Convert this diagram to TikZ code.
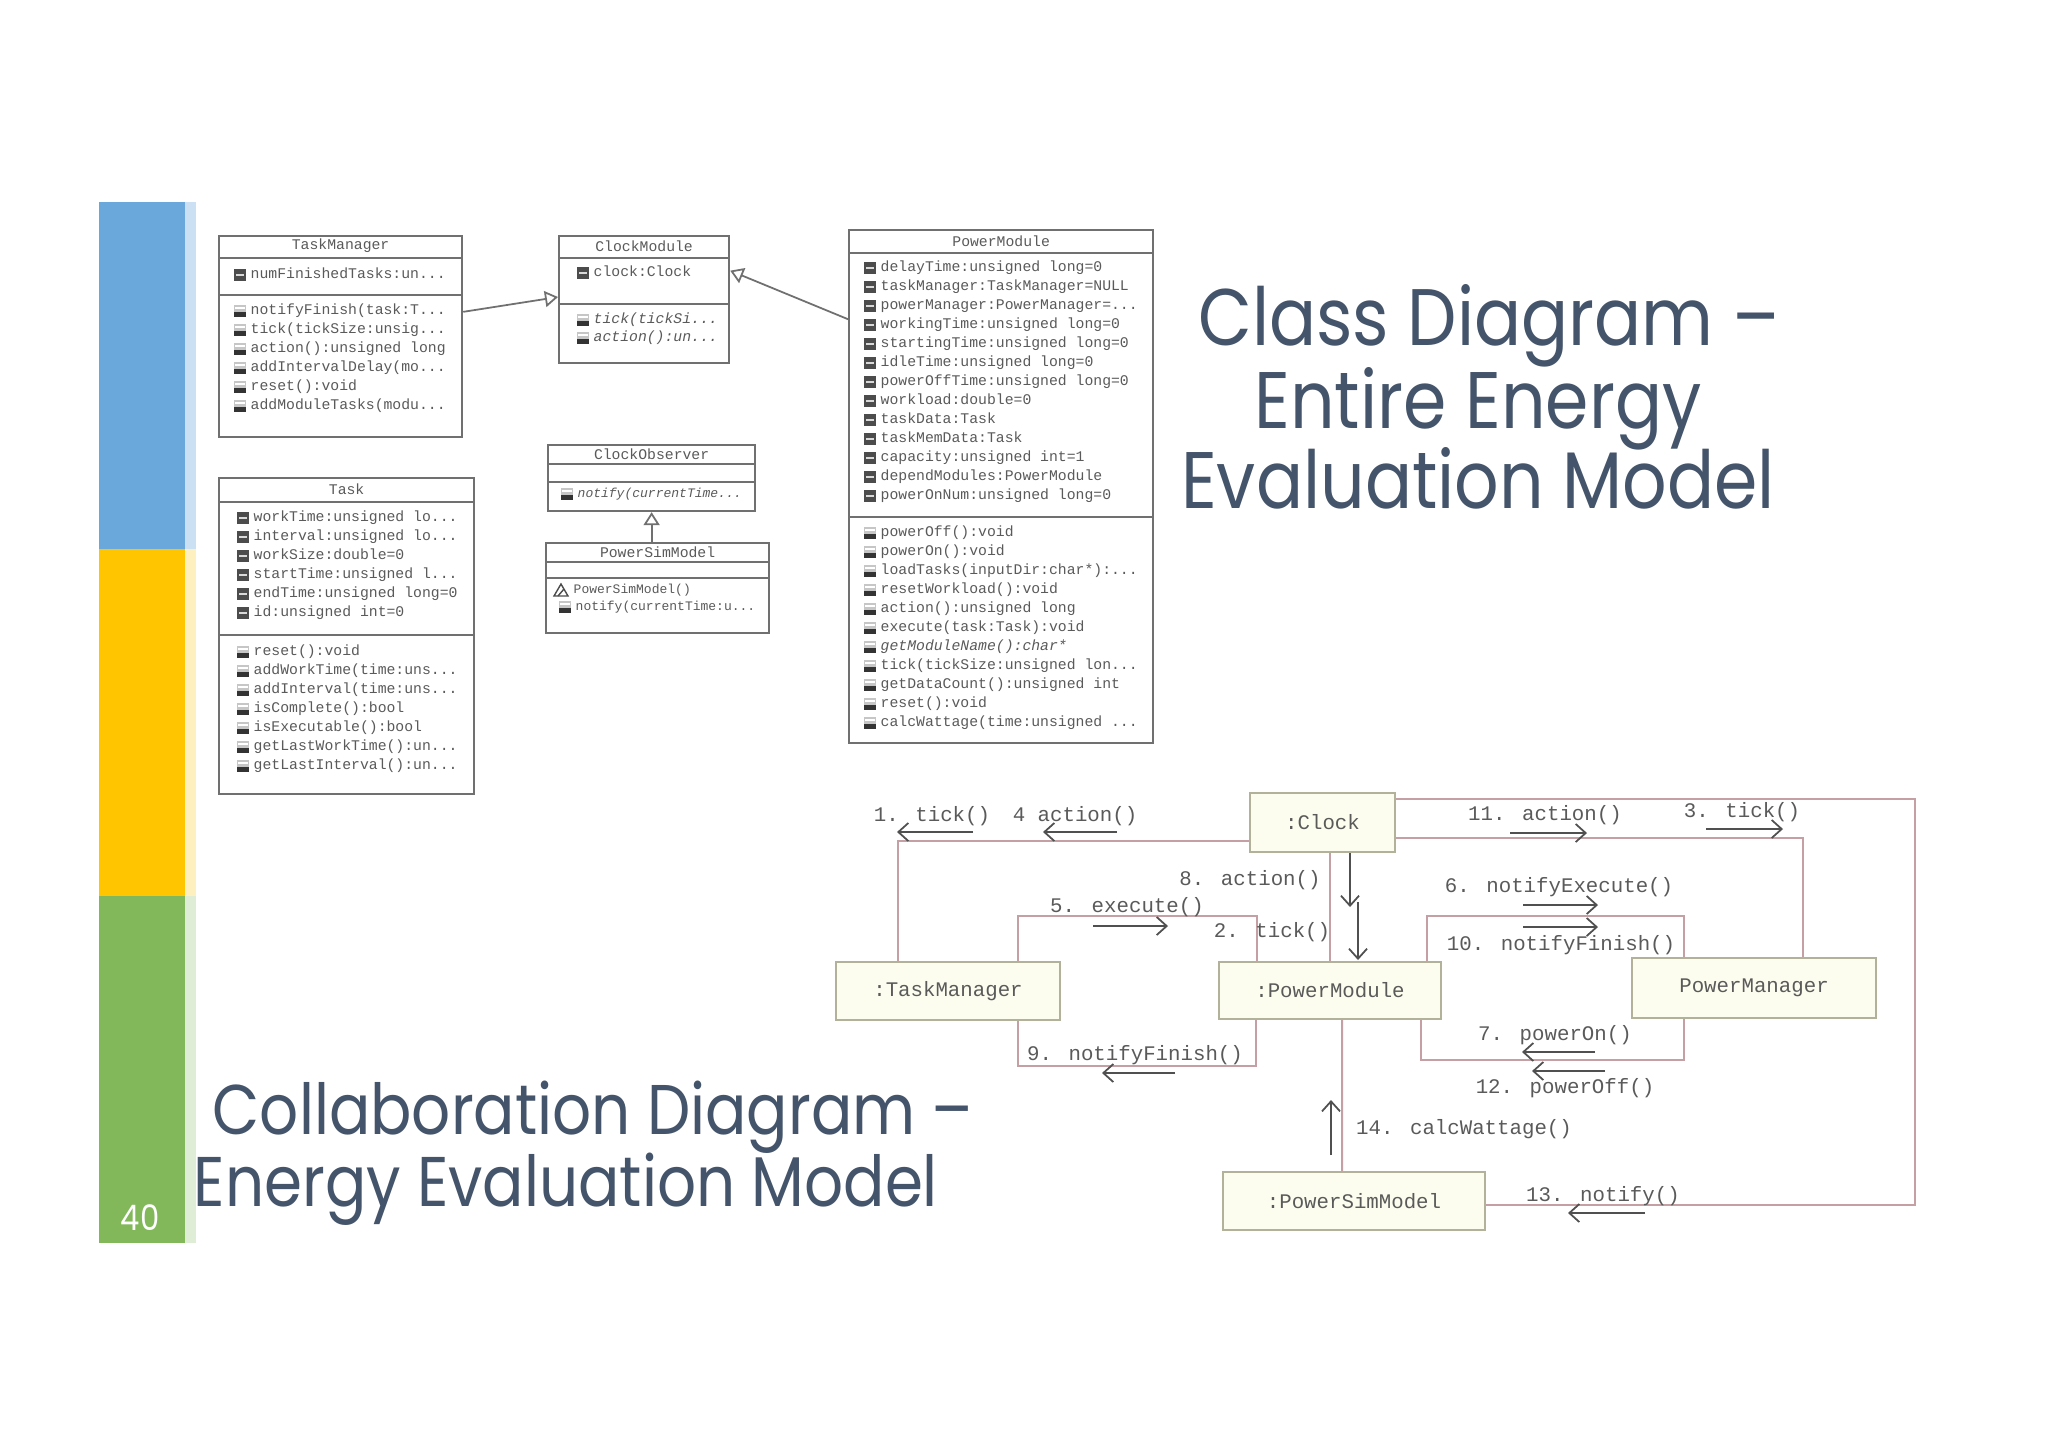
\documentclass[tikz,border=0pt]{standalone}
\usepackage{fontspec}
\usetikzlibrary{arrows.meta,calc,positioning}
\newfontfamily\titlefont[FakeStretch=0.87]{Poppins}
\newfontfamily\umlfont{Liberation Mono}
\newcommand{\trunc}{...}
\definecolor{slate}{HTML}{44546A}
\definecolor{barblue}{HTML}{6AA8DC}
\definecolor{baryellow}{HTML}{FFC600}
\definecolor{bargreen}{HTML}{82B85A}
\definecolor{umlgray}{HTML}{707070}
\definecolor{umltext}{HTML}{5A5A5A}
\definecolor{objfill}{HTML}{FDFDEF}
\definecolor{objline}{HTML}{B2B29A}
\definecolor{linkcol}{HTML}{C49FA4}
\definecolor{msgcol}{HTML}{505050}

\tikzset{
  ficon/.pic={\fill[black!70] (-6,-6) rectangle (6,6); \fill[gray!30] (-4,-1) rectangle (4,1);},
  oicon/.pic={\fill[gray!45] (-6,-6) rectangle (6,6); \fill[black!80] (-6,1) rectangle (6,6); \draw[white, line width=0.3pt] (-5,-3) -- (5,-3);},
  cicon/.pic={\draw[black!70, line width=0.4pt] (-7,6) -- (0,-6) -- (7,6) -- cycle; \draw[black!70, line width=0.4pt] (-3,6) -- (3,-1);}
}

\begin{document}
\begin{tikzpicture}[x=0.01cm, y=-0.01cm,
  cls/.style={draw=umlgray, line width=0.6pt, fill=white, anchor=north west, inner sep=0pt},
  sep/.style={draw=umlgray, line width=0.5pt},
  head/.style={font=\umlfont\fontsize{4.2}{5}\selectfont, text=umltext, inner sep=0pt},
  mem/.style={anchor=west, font=\umlfont\fontsize{4.2}{5}\selectfont, text=umltext, inner sep=0pt, text height=3pt, text depth=1pt},
  narrow/.style={font=\umlfont\fontsize{3.7}{5}\selectfont},
  gen/.style={draw=umlgray, line width=0.5pt, -{Triangle[open, fill=white, length=1.3mm, width=1.6mm]}},
  obj/.style={draw=objline, line width=0.5pt, fill=objfill, inner sep=0pt, font=\umlfont\fontsize{5.9}{7}\selectfont, text=umltext},
  link/.style={draw=linkcol, line width=0.55pt},
  lbl/.style={font=\umlfont\fontsize{5.9}{7}\selectfont, text=umltext, inner sep=0pt},
  msg/.style={draw=msgcol, line width=0.5pt, -{Straight Barb[length=1mm, width=1.8mm]}},
  title/.style={font=\titlefont\fontsize{22.8}{27}\selectfont, text=slate, inner sep=0pt, anchor=base},
  subtitle/.style={font=\titlefont\fontsize{20}{24}\selectfont, text=slate, inner sep=0pt, anchor=base west}
]
\useasboundingbox[fill=white] (0,0) rectangle (2048,1447);

% side bar
\fill[barblue] (99,202) rectangle (185,549);
\fill[baryellow] (99,549) rectangle (185,896);
\fill[bargreen] (99,896) rectangle (185,1243);
\fill[barblue!35] (185,202) rectangle (196,549);
\fill[baryellow!25] (185,549) rectangle (196,896);
\fill[bargreen!25] (185,896) rectangle (196,1243);
\node[font=\titlefont\fontsize{10}{12}\selectfont, text=white] (pg) at (140,1218) {40};

% titles
\node[title] (t1) at (1489,345) {Class Diagram \textendash};
\node[title] (t2) at (1478,428) {Entire Energy};
\node[title] (t3) at (1478,508) {Evaluation Model};
\node[subtitle] (s1) at (212,1134) {Collaboration Diagram \textendash};
\node[subtitle] (s2) at (193,1206) {Energy Evaluation Model};

% class diagram
\node[cls, minimum width=2.43cm, minimum height=2.01cm] (tm) at (218,235) {};
\draw[sep] ($(tm.north west)+(0,23)$) -- ($(tm.north east)+(0,23)$);
\draw[sep] ($(tm.north west)+(0,60)$) -- ($(tm.north east)+(0,60)$);
\node[head] at ($(tm.north)+(0,11)$) {TaskManager};
\foreach \txt [count=\i] in {numFinishedTasks:un\trunc}
  {\node[mem] (tmA\i) at ($(tm.north west)+(32,{21+19*\i})$) {\txt}; \pic at ($(tmA\i.west)+(-10,0)$) {ficon};}
\foreach \txt [count=\i] in {notifyFinish(task:T\trunc, tick(tickSize:unsig\trunc, action():unsigned long, addIntervalDelay(mo\trunc, reset():void, addModuleTasks(modu\trunc}
  {\node[mem] (tmM\i) at ($(tm.north west)+(32,{57+19*\i})$) {\txt}; \pic at ($(tmM\i.west)+(-10,0)$) {oicon};}

\node[cls, minimum width=2.55cm, minimum height=3.16cm] (tk) at (218,477) {};
\draw[sep] ($(tk.north west)+(0,25)$) -- ($(tk.north east)+(0,25)$);
\draw[sep] ($(tk.north west)+(0,158)$) -- ($(tk.north east)+(0,158)$);
\node[head] at ($(tk.north)+(0,12)$) {Task};
\foreach \txt [count=\i] in {workTime:unsigned lo\trunc, interval:unsigned lo\trunc, workSize:double=0, startTime:unsigned l\trunc, endTime:unsigned long=0, id:unsigned int=0}
  {\node[mem] (tkA\i) at ($(tk.north west)+(35,{22+19*\i})$) {\txt}; \pic at ($(tkA\i.west)+(-10,0)$) {ficon};}
\foreach \txt [count=\i] in {reset():void, addWorkTime(time:uns\trunc, addInterval(time:uns\trunc, isComplete():bool, isExecutable():bool, getLastWorkTime():un\trunc, getLastInterval():un\trunc}
  {\node[mem] (tkM\i) at ($(tk.north west)+(35,{156+19*\i})$) {\txt}; \pic at ($(tkM\i.west)+(-10,0)$) {oicon};}

\node[cls, minimum width=1.70cm, minimum height=1.27cm] (cm) at (558,235) {};
\draw[sep] ($(cm.north west)+(0,23)$) -- ($(cm.north east)+(0,23)$);
\draw[sep] ($(cm.north west)+(0,69)$) -- ($(cm.north east)+(0,69)$);
\node[head] at ($(cm.north)+(0,11)$) {ClockModule};
\node[mem] (cmA1) at ($(cm.north west)+(35,38)$) {clock:Clock};
\pic at ($(cmA1.west)+(-10,0)$) {ficon};
\foreach \txt [count=\i] in {tick(tickSi\trunc, action():un\trunc}
  {\node[mem, font=\umlfont\itshape\fontsize{4.2}{5}\selectfont] (cmM\i) at ($(cm.north west)+(35,{67+18*\i})$) {\txt}; \pic at ($(cmM\i.west)+(-10,0)$) {oicon};}

\node[cls, minimum width=2.07cm, minimum height=0.66cm] (co) at (547,444) {};
\draw[sep] ($(co.north west)+(0,20)$) -- ($(co.north east)+(0,20)$);
\draw[sep] ($(co.north west)+(0,38)$) -- ($(co.north east)+(0,38)$);
\node[head] at ($(co.north)+(0,10)$) {ClockObserver};
\node[mem, font=\umlfont\itshape\fontsize{3.7}{5}\selectfont] (coM1) at ($(co.north west)+(30,50)$) {notify(currentTime\trunc};
\pic at ($(coM1.west)+(-10,0)$) {oicon};

\node[cls, minimum width=2.23cm, minimum height=0.90cm] (psm) at (545,542) {};
\draw[sep] ($(psm.north west)+(0,20)$) -- ($(psm.north east)+(0,20)$);
\draw[sep] ($(psm.north west)+(0,36)$) -- ($(psm.north east)+(0,36)$);
\node[head] at ($(psm.north)+(0,10)$) {PowerSimModel};
\node[mem, narrow] (psmM1) at ($(psm.north west)+(28,48)$) {PowerSimModel()};
\pic at ($(psmM1.west)+(-12,0)$) {cicon};
\node[mem, narrow] (psmM2) at ($(psm.north west)+(30,65)$) {notify(currentTime:u\trunc};
\pic at ($(psmM2.west)+(-10,0)$) {oicon};

\node[cls, minimum width=3.04cm, minimum height=5.13cm] (pm) at (848,229) {};
\draw[sep] ($(pm.north west)+(0,24)$) -- ($(pm.north east)+(0,24)$);
\draw[sep] ($(pm.north west)+(0,288)$) -- ($(pm.north east)+(0,288)$);
\node[head] at ($(pm.north)+(0,12)$) {PowerModule};
\foreach \txt [count=\i] in {delayTime:unsigned long=0, taskManager:TaskManager=NULL, powerManager:PowerManager=\trunc, workingTime:unsigned long=0, startingTime:unsigned long=0, idleTime:unsigned long=0, powerOffTime:unsigned long=0, workload:double=0, taskData:Task, taskMemData:Task, capacity:unsigned int=1, dependModules:PowerModule, powerOnNum:unsigned long=0}
  {\node[mem] (pmA\i) at ($(pm.north west)+(32,{20+19*\i})$) {\txt}; \pic at ($(pmA\i.west)+(-10,0)$) {ficon};}
\foreach \txt [count=\i] in {powerOff():void, powerOn():void, loadTasks(inputDir:char*):\trunc, resetWorkload():void, action():unsigned long, execute(task:Task):void, {\itshape getModuleName():char*}, tick(tickSize:unsigned lon\trunc, getDataCount():unsigned int, reset():void, calcWattage(time:unsigned \trunc}
  {\node[mem] (pmM\i) at ($(pm.north west)+(32,{285+19*\i})$) {\txt}; \pic at ($(pmM\i.west)+(-10,0)$) {oicon};}

\draw[gen] ($(tm.north east)!0.378!(tm.south east)$) -- ($(cm.north west)!0.48!(cm.south west)$);
\draw[gen] ($(pm.north west)!0.175!(pm.south west)$) -- ($(cm.north east)!0.276!(cm.south east)$);
\draw[gen] (co.south |- psm.north) -- (co.south);

% collaboration diagram
\node[obj, minimum width=1.45cm, minimum height=0.59cm] (oclk) at (1322.5,822.5) {:Clock};
\node[obj, minimum width=2.24cm, minimum height=0.58cm] (otm) at (948,991) {:TaskManager};
\node[obj, minimum width=2.22cm, minimum height=0.57cm] (opm) at (1330,990.5) {:PowerModule};
\node[obj, minimum width=2.44cm, minimum height=0.60cm] (opmg) at (1754,988) {PowerManager};
\node[obj, minimum width=2.62cm, minimum height=0.58cm] (opsm) at (1354,1201) {:PowerSimModel};
\coordinate (outer) at (1915,1000);

\draw[link] ($(oclk.south west)!0.19!(oclk.north west)$) -| ($(otm.north west)+(63,0)$);
\draw[link] ($(otm.north west)+(183,0)$) -- ++(0,-45) -| ($(opm.north west)+(39,0)$);
\draw[link] ($(otm.south west)+(183,0)$) -- ++(0,45) -| ($(opm.south west)+(38,0)$);
\draw[link] (opm.north |- oclk.south) -- (opm.north);
\draw[link] ($(oclk.south east)!0.24!(oclk.north east)$) -| ($(opmg.north west)+(172,0)$);
\draw[link] ($(opm.north west)+(209,0)$) -- ++(0,-45) -| ($(opmg.north west)+(53,0)$);
\draw[link] ($(opm.south west)+(203,0)$) -- ++(0,40) -| ($(opmg.south west)+(53,0)$);
\draw[link] ($(opm.south west)+(124,0)$) -- ($(opsm.north west)+(120,0)$);
\draw[link] ($(oclk.south east)!0.88!(oclk.north east)$) -| (outer) |- ($(opsm.south east)!0.43!(opsm.north east)$);

% messages
\node[lbl] (m1) at (932,816) {1. tick()};
\draw[msg] ($(m1)+(41,16)$) -- ++(-76,0);
\node[lbl] (m4) at (1075,816) {4 action()};
\draw[msg] ($(m4)+(42,16)$) -- ++(-74,0);
\node[lbl] (m8) at (1250,880) {8. action()};
\draw[msg] ($(m8)+(100,-27)$) -- ++(0,54);
\node[lbl] (m5) at (1127,907) {5. execute()};
\draw[msg] ($(m5)+(-34,19)$) -- ++(75,0);
\node[lbl] (m2) at (1272,932) {2. tick()};
\draw[msg] ($(m2)+(86,-30)$) -- ++(0,58);
\node[lbl] (m11) at (1545,815) {11. action()};
\draw[msg] ($(m11)+(-35,18)$) -- ++(77,0);
\node[lbl] (m3) at (1742,812) {3. tick()};
\draw[msg] ($(m3)+(-36,17)$) -- ++(77,0);
\node[lbl] (m6) at (1559,887) {6. notifyExecute()};
\draw[msg] ($(m6)+(-36,18)$) -- ++(75,0);
\node[lbl] (m10) at (1561,945) {10. notifyFinish()};
\draw[msg] ($(m10)+(-38,-18)$) -- ++(75,0);
\node[lbl] (m7) at (1555,1035) {7. powerOn()};
\draw[msg] ($(m7)+(40,17)$) -- ++(-73,0);
\node[lbl] (m12) at (1565,1088) {12. powerOff()};
\draw[msg] ($(m12)+(40,-17)$) -- ++(-73,0);
\node[lbl] (m9) at (1135,1055) {9. notifyFinish()};
\draw[msg] ($(m9)+(40,18)$) -- ++(-73,0);
\node[lbl] (m14) at (1464,1129) {14. calcWattage()};
\draw[msg] ($(m14)+(-133,26)$) -- ++(0,-55);
\node[lbl] (m13) at (1603,1196) {13. notify()};
\draw[msg] ($(m13)+(42,17)$) -- ++(-77,0);
\end{tikzpicture}
\end{document}
